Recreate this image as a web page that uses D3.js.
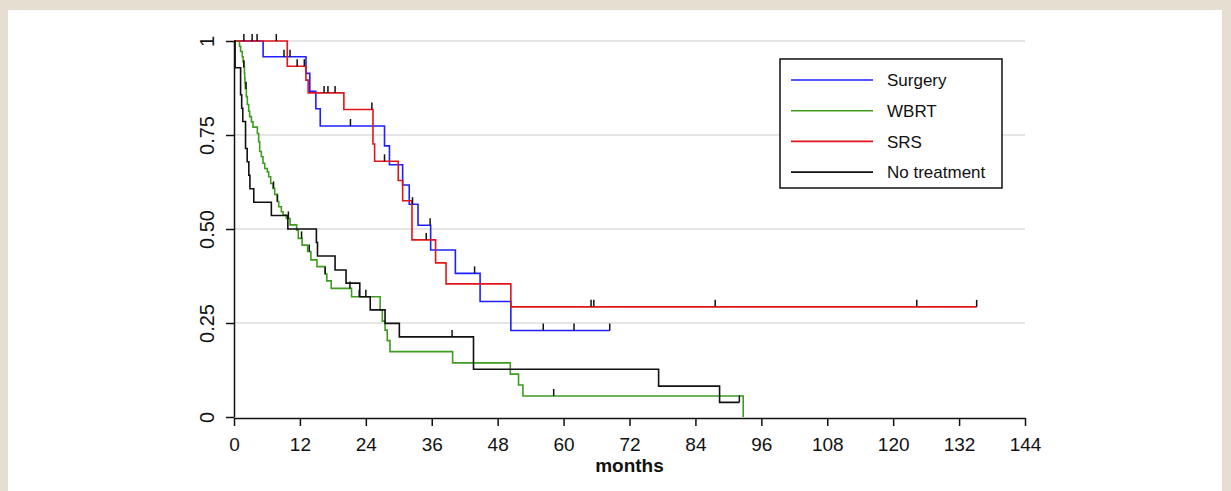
<!DOCTYPE html>
<meta charset="utf-8">
<style>
  body { margin: 0; background: #e6dfd1; }
  svg { display: block; font-family: "Liberation Sans", Arial, sans-serif; }
</style>
<script src="https://d3js.org/d3.v7.min.js"></script>
<svg width="1231" height="491"></svg>
<script>
// survival curves: [month, survival] at each drop
const surgery = [[0,1],[5.3,0.958],[13.1,0.914],[13.8,0.866],[14.9,0.82],[15.7,0.774],[27.4,0.721],[28.3,0.671],
  [30.7,0.617],[31.9,0.566],[33.5,0.51],[35.8,0.444],[40.3,0.382],[44.8,0.307],[50.4,0.23]];
const surgeryEnd = 68.4;
const surgeryCens = [1.8, 4.2, 9.1, 10.2, 21.2, 32.5, 35.7, 43.8, 56.3, 61.9, 68.4];

const wbrt = [[0,1],[1.0,0.986],[1.2,0.972],[1.5,0.958],[1.65,0.944],[1.8,0.93],[1.9,0.915],[1.95,0.901],[2.0,0.887],
  [2.06,0.873],[2.25,0.852],[2.43,0.831],[2.67,0.813],[2.85,0.799],[3.16,0.785],[3.46,0.771],[4.25,0.754],
  [4.49,0.732],[4.68,0.706],[4.98,0.692],[5.28,0.675],[5.59,0.661],[6.07,0.652],[6.32,0.639],[6.68,0.621],
  [7.1,0.608],[7.41,0.592],[7.89,0.573],[8.14,0.559],[8.62,0.546],[8.93,0.537],[9.53,0.528],[10.2,0.511],
  [11.4,0.497],[11.7,0.475],[12.4,0.457],[13.4,0.44],[14.0,0.418],[15.1,0.4],[16.6,0.38],[16.9,0.362],
  [17.7,0.342],[21.4,0.32],[26.6,0.285],[27.0,0.255],[27.5,0.231],[27.9,0.203],[28.4,0.174],[39.8,0.144],
  [50.3,0.114],[51.8,0.085],[52.6,0.056],[92.7,0]];
const wbrtEnd = 92.7;
const wbrtCens = [1.8, 2.2, 7.2, 7.9, 9.9, 12.3, 13.7, 16.6, 21.1, 22.8, 24.0, 58.2];

const srs = [[0,1],[9.7,0.933],[13.1,0.896],[13.5,0.862],[20.0,0.818],[25.3,0.726],[25.6,0.68],[29.9,0.629],
  [30.7,0.575],[32.4,0.471],[36.7,0.41],[38.6,0.354],[50.4,0.293]];
const srsEnd = 135.2;
const srsCens = [3.3, 7.7, 11.5, 12.8, 16.4, 17.1, 18.4, 25.1, 27.4, 35.0, 65.0, 65.5, 87.6, 124.3, 135.2];

const noTreat = [[0,1],[0.2,0.929],[1.2,0.857],[1.4,0.821],[1.6,0.786],[2.1,0.714],[2.4,0.679],[2.7,0.643],
  [2.9,0.607],[3.6,0.571],[6.8,0.536],[9.8,0.5],[15.0,0.464],[15.2,0.428],[18.4,0.391],[20.4,0.356],
  [22.9,0.32],[24.8,0.285],[27.5,0.249],[30.1,0.213],[43.6,0.127],[77.3,0.082],[88.4,0.039]];
const noTreatEnd = 92.0;
const noTreatCens = [39.7, 92.0];

const xTicks = d3.range(0, 145, 12);
const yTicks = [0, 0.25, 0.5, 0.75, 1];
const yLabels = ['0', '0.25', '0.50', '0.75', '1'];

const groups = [
  { name: 'Surgery', pts: surgery, end: surgeryEnd, cens: surgeryCens, color: '#1f1fff' },
  { name: 'WBRT', pts: wbrt, end: wbrtEnd, cens: wbrtCens, color: '#3f9c1f' },
  { name: 'SRS', pts: srs, end: srsEnd, cens: srsCens, color: '#e2151b' },
  { name: 'No treatment', pts: noTreat, end: noTreatEnd, cens: noTreatCens, color: '#111111' }
];

const svg = d3.select('svg');
svg.append('rect').attr('x', 8).attr('y', 10).attr('width', 1214).attr('height', 481).attr('fill', '#fff');

const x = d3.scaleLinear().domain([0, 144]).range([234, 1025]);
const y = d3.scaleLinear().domain([0, 1]).range([417, 41]);

// grid
svg.append('g').selectAll('line')
  .data(yTicks.slice(1))
  .enter().append('line')
  .attr('x1', x(0)).attr('x2', x(144))
  .attr('y1', d => y(d)).attr('y2', d => y(d))
  .attr('stroke', '#dcdcdc').attr('stroke-width', 1.5);

const line = d3.line().x(d => x(d[0])).y(d => y(d[1])).curve(d3.curveStepAfter);

function survAt(pts, t) {
  let s = 1;
  pts.forEach(p => { if (p[0] <= t) s = p[1]; });
  return s;
}

groups.forEach(g => {
  const last = g.pts[g.pts.length - 1];
  const pts = last[0] < g.end ? g.pts.concat([[g.end, last[1]]]) : g.pts;
  svg.append('path').attr('d', line(pts))
    .attr('fill', 'none').attr('stroke', g.color).attr('stroke-width', 1.6);
});

// censor marks
groups.forEach(g => {
  svg.append('g').selectAll('line')
    .data(g.cens)
    .enter().append('line')
    .attr('x1', d => x(d)).attr('x2', d => x(d))
    .attr('y1', d => y(survAt(g.pts, d)))
    .attr('y2', d => y(survAt(g.pts, d)) - 7)
    .attr('stroke', '#111').attr('stroke-width', 1.5);
});

// axes
const xAxis = svg.append('g').attr('transform', 'translate(0,418)')
  .call(d3.axisBottom(x).tickValues(xTicks).tickSize(8).tickSizeOuter(0));
xAxis.selectAll('text').attr('font-size', 19).attr('fill', '#111').attr('y', 20).attr('dy', '0.71em')
  .attr('font-family', '"Liberation Sans", Arial, sans-serif');

const yAxis = svg.append('g').attr('transform', 'translate(234,0)')
  .call(d3.axisLeft(y).tickValues(yTicks).tickFormat((d, i) => yLabels[i]).tickSize(8).tickSizeOuter(0));
yAxis.selectAll('text')
  .attr('font-size', 20).attr('fill', '#111')
  .attr('font-family', '"Liberation Sans", Arial, sans-serif')
  .attr('text-anchor', 'middle')
  .attr('x', 0).attr('y', 0).attr('dy', 0)
  .attr('transform', 'translate(-20,0) rotate(-90)');

svg.selectAll('.domain, .tick line').attr('stroke', '#111').attr('stroke-width', 1.5);

svg.append('text')
  .attr('x', (x(0) + x(144)) / 2).attr('y', 472)
  .attr('text-anchor', 'middle')
  .attr('font-size', 19).attr('font-weight', 'bold').attr('fill', '#111')
  .text('months');

// legend
const legend = svg.append('g').attr('transform', 'translate(780,59)');
legend.append('rect').attr('width', 222).attr('height', 129)
  .attr('fill', '#fff').attr('stroke', '#111').attr('stroke-width', 1.5);
groups.forEach((g, i) => {
  const ly = 21 + i * 30.7;
  legend.append('line').attr('x1', 11).attr('x2', 93).attr('y1', ly).attr('y2', ly)
    .attr('stroke', g.color).attr('stroke-width', 1.6);
  legend.append('text').attr('x', 107).attr('y', ly).attr('dy', '0.36em')
    .attr('font-size', 17).attr('fill', '#111').text(g.name);
});
</script>
